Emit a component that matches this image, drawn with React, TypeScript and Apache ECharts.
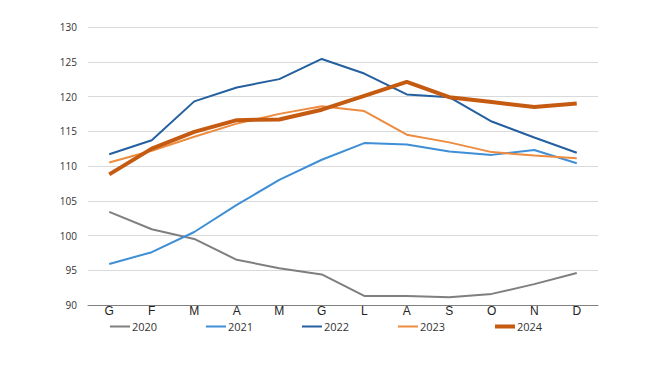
import React, { useEffect, useRef } from "react";
import * as echarts from "echarts";

const months = ["G", "F", "M", "A", "M", "G", "L", "A", "S", "O", "N", "D"];
const years = ["2020", "2021", "2022", "2023", "2024"];
const s2020 = [103.4, 100.9, 99.5, 96.5, 95.3, 94.4, 91.3, 91.3, 91.1, 91.6, 93.0, 94.6];
const s2021 = [95.9, 97.6, 100.5, 104.4, 108.0, 110.9, 113.3, 113.1, 112.1, 111.6, 112.3, 110.4];
const s2022 = [111.7, 113.7, 119.3, 121.3, 122.5, 125.4, 123.3, 120.3, 119.9, 116.4, 114.1, 111.9];
const s2023 = [110.5, 112.2, 114.2, 116.1, 117.5, 118.6, 117.9, 114.5, 113.4, 112.0, 111.5, 111.1];
const s2024 = [108.8, 112.5, 114.9, 116.6, 116.7, 118.1, 120.1, 122.1, 119.9, 119.2, 118.5, 119.0];

const seriesData = [s2020, s2021, s2022, s2023, s2024];
const colors = ["#7f7f7f", "#3e8fd6", "#245f9f", "#ed8b3f", "#c55a11"];
const widths = [2, 2, 2, 2, 4];

export default function App() {
  const ref = useRef<HTMLDivElement>(null);
  useEffect(() => {
    if (!ref.current) return;
    const chart = echarts.init(ref.current, null, { renderer: "svg" });
    const legendLefts = [110, 206, 302, 398, 495];
    chart.setOption({
      animation: false,
      backgroundColor: "#ffffff",
      grid: { left: 88, right: 52, top: 27, bottom: 61 },
      legend: years.map((y, i) => ({
        data: [{ name: y, icon: "rect" }],
        left: legendLefts[i],
        top: 321,
        itemWidth: 20,
        itemHeight: widths[i] === 4 ? 4 : 2,
        itemGap: 2,
        padding: 0,
        textStyle: { fontSize: 11, color: "#333", fontFamily: "Open Sans", padding: [0, 0, 0, -3] },
      })),
      xAxis: {
        type: "category",
        data: months,
        boundaryGap: true,
        axisLine: { lineStyle: { color: "#808080", width: 1 } },
        axisTick: { inside: true, length: 4, lineStyle: { color: "#808080" } },
        axisLabel: { fontSize: 12, color: "#222", fontFamily: "Liberation Sans", margin: 0 },
      },
      yAxis: {
        type: "value",
        min: 90,
        max: 130,
        interval: 5,
        axisLine: { show: false },
        axisTick: { show: false },
        splitLine: { lineStyle: { color: "#d9d9d9", width: 1 } },
        axisLabel: { fontSize: 10, color: "#333", fontFamily: "Open Sans", margin: 11 },
      },
      series: years.map((y, i) => ({
        name: y,
        type: "line",
        data: seriesData[i],
        symbol: "none",
        z: i === 4 ? 5 : 2,
        lineStyle: { color: colors[i], width: widths[i] },
        itemStyle: { color: colors[i] },
      })),
    });
    return () => chart.dispose();
  }, []);
  return <div ref={ref} style={{ width: 650, height: 366, position: "absolute", left: 0, top: 0 }} />;
}
